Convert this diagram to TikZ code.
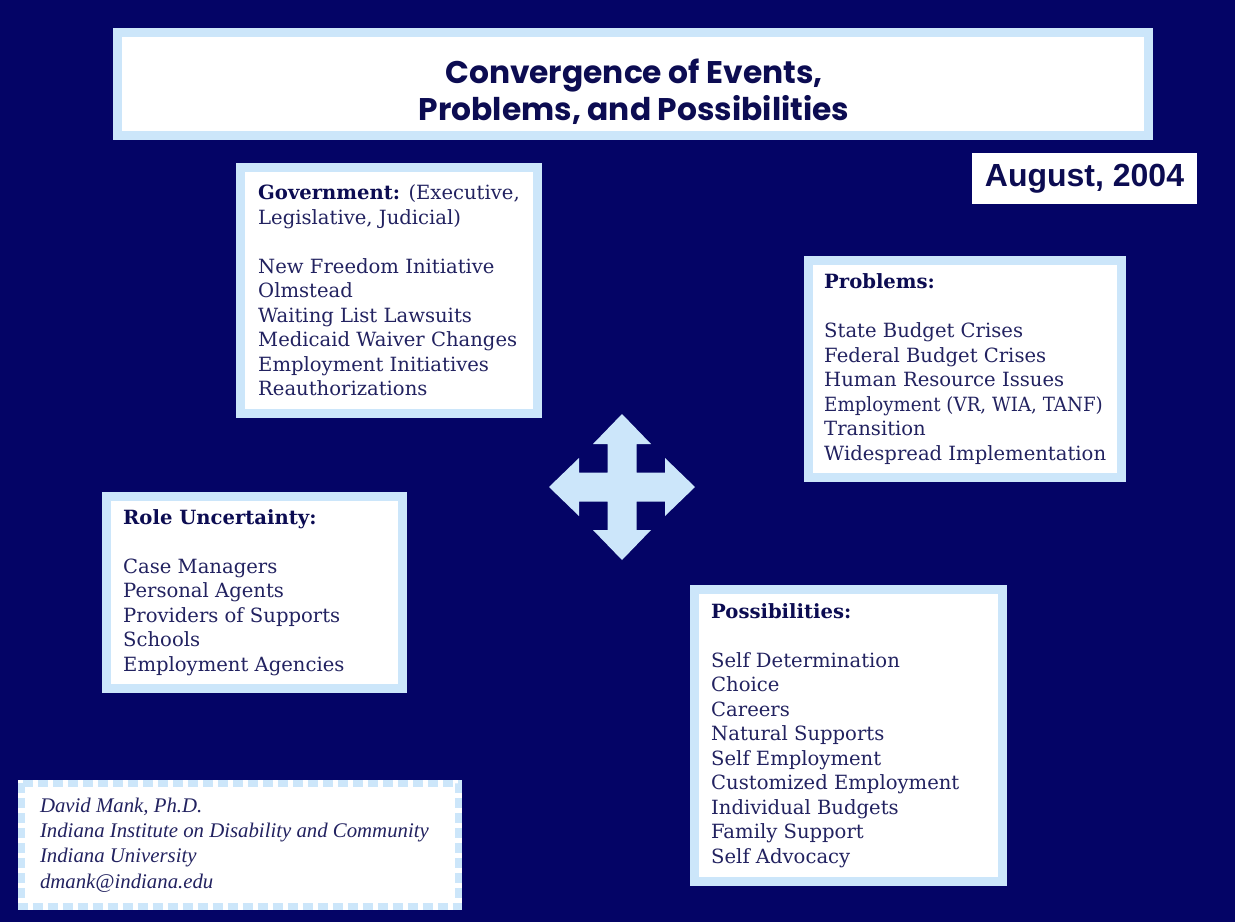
\documentclass[tikz,border=0pt]{standalone}
\usepackage{fontspec}
\setmainfont{DejaVu Serif}
\newfontfamily\titlefont{Poppins}
\newfontfamily\datefont{Liberation Sans}
\newfontfamily\signfont{Liberation Serif}
\usetikzlibrary{positioning}
\definecolor{navybg}{RGB}{4,4,102}
\definecolor{paleblue}{RGB}{204,230,250}
\definecolor{inkblue}{RGB}{34,34,96}
\definecolor{headblue}{RGB}{12,12,82}
\tikzset{
  panel/.style={draw=paleblue,line width=9pt,fill=white,inner sep=0pt},
  listtext/.style={inner sep=0pt,align=left,text=inkblue,font=\fontsize{19.6}{24.5}\selectfont},
  stampedge/.style={draw=paleblue,line width=7pt,dash pattern=on 10pt off 5pt},
}
\newcommand{\hd}[1]{{\bfseries\color{headblue}#1}}

\begin{document}
\begin{tikzpicture}[x=1pt,y=-1pt]
		\fill[navybg] (0,0) rectangle (1235,922);
		\useasboundingbox (0,0) rectangle (1235,922);

		% banner
		\node[panel,minimum width=1031pt,minimum height=103pt] (banner) at (633,84) {};
		\node[align=center,text=headblue,font=\titlefont\bfseries\fontsize{31.3}{37}\selectfont] (title) at (634,92) {Convergence of Events,\\Problems, and Possibilities};

		\node[fill=white,minimum width=225pt,minimum height=51pt,inner sep=0pt,text=headblue,font=\datefont\bfseries\fontsize{32}{38}\selectfont] (date) at (1084.5,178.5) {August, 2004};

		% the four panels
		\node[panel,minimum width=297pt,minimum height=246pt] (gov) at (389,290.5) {};
		\node[listtext,right=22pt of gov.west] (govtext) {\hd{Government:} (Executive,\\Legislative, Judicial)\\[24.5pt]New Freedom Initiative\\Olmstead\\Waiting List Lawsuits\\Medicaid Waiver Changes\\Employment Initiatives\\Reauthorizations};

		\node[panel,minimum width=313pt,minimum height=217pt] (prob) at (965,369) {};
		\node[listtext,right=20pt of prob.west] (probtext) {\hd{Problems:}\\[24.5pt]State Budget Crises\\Federal Budget Crises\\Human Resource Issues\\\scalebox{0.93}[1]{Employment (VR, WIA, TANF)}\\Transition\\Widespread Implementation};

		\node[panel,minimum width=296pt,minimum height=192pt] (role) at (254.5,592.5) {};
		\node[listtext,right=21pt of role.west] (roletext) {\hd{Role Uncertainty:}\\[24.5pt]Case Managers\\Personal Agents\\Providers of Supports\\Schools\\Employment Agencies};

		\node[panel,minimum width=308pt,minimum height=292pt] (poss) at (848.5,735.5) {};
		\node[listtext,right=21pt of poss.west] (posstext) {\hd{Possibilities:}\\[24.5pt]Self Determination\\Choice\\Careers\\Natural Supports\\Self Employment\\Customized Employment\\Individual Budgets\\Family Support\\Self Advocacy};

		% four-way arrow
		\coordinate (hub) at (622,487);
		\begin{scope}[shift={(hub)}]
		\fill[paleblue] (0,-73) -- (29,-43) -- (14.5,-43) -- (14.5,-14.5) -- (43,-14.5) -- (43,-29)
			-- (73,0) -- (43,29) -- (43,14.5) -- (14.5,14.5) -- (14.5,43) -- (29,43)
			-- (0,73) -- (-29,43) -- (-14.5,43) -- (-14.5,14.5) -- (-43,14.5) -- (-43,29)
			-- (-73,0) -- (-43,-29) -- (-43,-14.5) -- (-14.5,-14.5) -- (-14.5,-43) -- (-29,-43) -- cycle;
		\end{scope}

		% signature card
		\node[fill=white,minimum width=444pt,minimum height=130pt,inner sep=0pt] (card) at (240,845) {};
		\draw[stampedge] ([shift={(3.5,3.5)}]card.north west) rectangle ([shift={(-3.5,-3.5)}]card.south east);
		\node[inner sep=0pt,align=left,text=inkblue,font=\signfont\itshape\fontsize{20.8}{25.3}\selectfont,right=22pt of card.west] (sign) {David Mank, Ph.D.\\Indiana Institute on Disability and Community\\Indiana University\\dmank@indiana.edu};
\end{tikzpicture}
\end{document}
